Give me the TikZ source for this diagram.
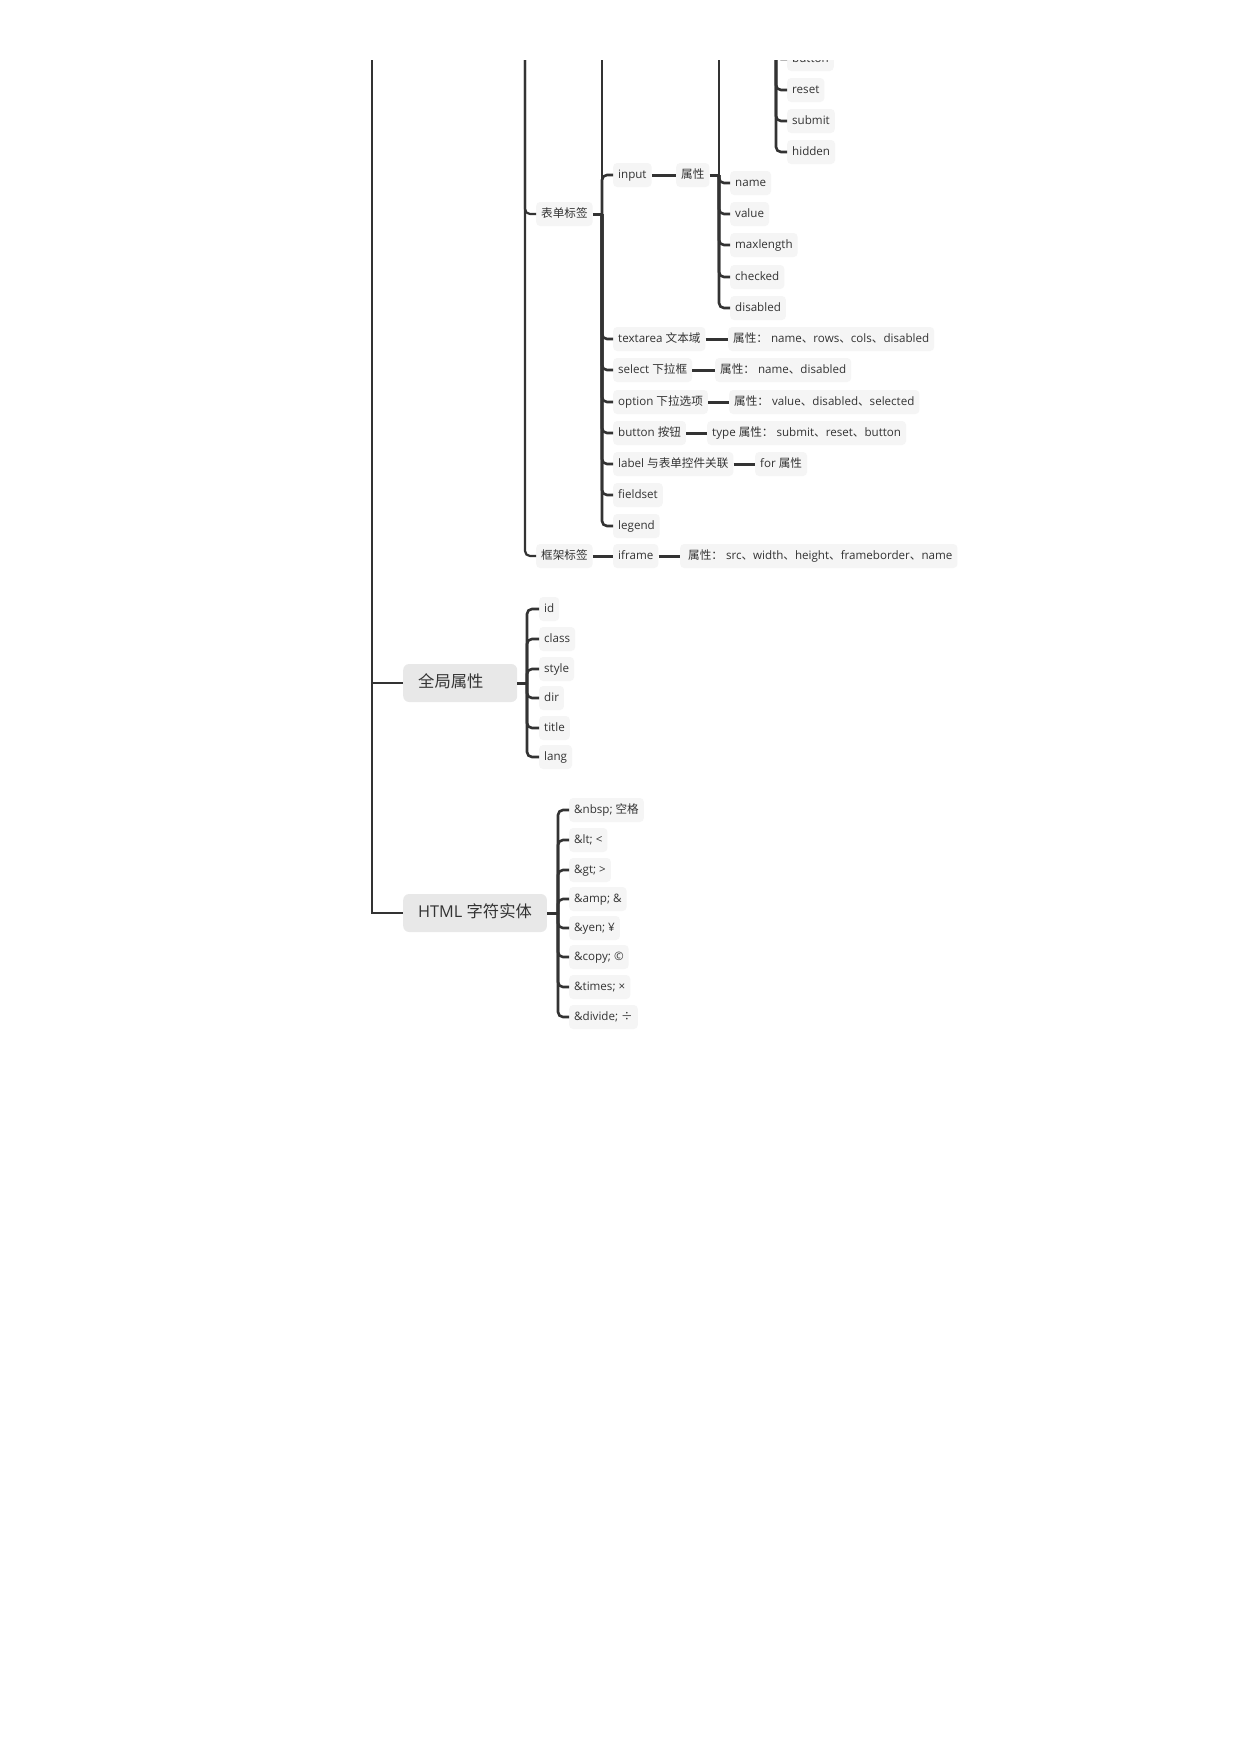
\documentclass[tikz,border=0pt]{standalone}
\usepackage{fontspec}
\setmainfont{Open Sans}
\newfontfamily\cjkfont{Noto Sans CJK SC}
\newcommand\zh[1]{{\cjkfont #1}}
\definecolor{ln}{HTML}{333333}
\definecolor{boxf}{HTML}{F5F5F5}
\definecolor{bigf}{HTML}{E8E8E8}
\definecolor{txt}{HTML}{333333}
\begin{document}
\begin{tikzpicture}[x=1pt,y=-1pt,
  leaf/.style={fill=boxf, rounded corners=4pt, inner xsep=5pt, inner ysep=0pt,
    minimum height=24pt, text height=8.5pt, text depth=2.5pt, anchor=west, text=txt,
    font=\fontsize{11.6}{13}\selectfont},
  big/.style={fill=bigf, rounded corners=6pt, inner xsep=15pt, inner ysep=0pt,
    minimum height=38pt, text height=12pt, text depth=3pt, anchor=west, text=txt,
    font=\fontsize{16.3}{19}\selectfont},
  mainline/.style={draw=ln, line width=1.3pt},
  trunkA/.style={draw=ln, line width=2.2pt, rounded corners=5pt},
  trunk/.style={draw=ln, line width=2.6pt, rounded corners=5pt},
  stub/.style={draw=ln, line width=3pt},
]
\useasboundingbox (0,0) rectangle (1240,1754);
\fill[white] (0,0) rectangle (1240,1754);
\begin{scope}
\clip (0,60) rectangle (1240,1754);

% free ends of branches running off the top
\coordinate (top0) at (372,30);
\coordinate (top1) at (525,30);
\coordinate (top2) at (602,30);
\coordinate (top3) at (719,30);
\coordinate (top4) at (776,30);

% type values
\node[leaf] (tbutton) at (787,59) {button};
\node[leaf] (treset) at (787,90) {reset};
\node[leaf] (tsubmit) at (787,121) {submit};
\node[leaf] (thidden) at (787,152) {hidden};

% input and its attributes
\node[leaf] (input) at (613,175) {input};
\node[leaf] (iattr) at (676,175) {\zh{属性}};
\node[leaf] (aname) at (730,183) {name};
\node[leaf] (avalue) at (730,214) {value};
\node[leaf] (amax) at (730,245) {maxlength};
\node[leaf] (achecked) at (730,277) {checked};
\node[leaf] (adisabled) at (730,308) {disabled};

% form tags
\node[leaf] (form) at (536,214) {\zh{表单标签}};
\node[leaf] (textarea) at (613,339) {textarea \zh{文本域}};
\node[leaf] (textareaA) at (728,339) {\zh{属性：} name\zh{、}rows\zh{、}cols\zh{、}disabled};
\node[leaf] (select) at (613,370) {select \zh{下拉框}};
\node[leaf] (selectA) at (715,370) {\zh{属性：} name\zh{、}disabled};
\node[leaf] (option) at (613,402) {option \zh{下拉选项}};
\node[leaf] (optionA) at (729,402) {\zh{属性：} value\zh{、}disabled\zh{、}selected};
\node[leaf] (button) at (613,433) {button \zh{按钮}};
\node[leaf] (buttonA) at (707,433) {type \zh{属性：} submit\zh{、}reset\zh{、}button};
\node[leaf] (label) at (613,464) {label \zh{与表单控件关联}};
\node[leaf] (labelA) at (755,464) {for \zh{属性}};
\node[leaf] (fieldset) at (613,495) {fieldset};
\node[leaf] (legend) at (613,526) {legend};

% frame tags
\node[leaf] (frame) at (536,556) {\zh{框架标签}};
\node[leaf] (iframe) at (613,556) {iframe};
\node[leaf] (iframeA) at (680,556) {\hspace{3pt}\zh{属性：} src\zh{、}width\zh{、}height\zh{、}frameborder\zh{、}name};

% global attributes
\node[big] (global) at (403,683) {\makebox[84pt][l]{\zh{全局属性}}};
\node[leaf] (gid) at (539,609) {id};
\node[leaf] (gclass) at (539,639) {class};
\node[leaf] (gstyle) at (539,669) {style};
\node[leaf] (gdir) at (539,698) {dir};
\node[leaf] (gtitle) at (539,728) {title};
\node[leaf] (glang) at (539,757) {lang};

% character entities
\node[big] (html) at (403,913) {HTML \zh{字符实体}};
\node[leaf] (enbsp) at (569,810) {\&nbsp; \zh{空格}};
\node[leaf] (elt) at (569,840) {\&lt; <};
\node[leaf] (egt) at (569,870) {\&gt; >};
\node[leaf] (eamp) at (569,899) {\&amp; \&};
\node[leaf] (eyen) at (569,928) {\&yen; ¥};
\node[leaf] (ecopy) at (569,957) {\&copy; ©};
\node[leaf] (etimes) at (569,987) {\&times; ×};
\node[leaf] (edivide) at (569,1017) {\&divide; \zh{÷}};

% ---- connectors ----
% main line
\draw[mainline] (top0) |- (html.west);
\draw[mainline] (global.west -| top0) -- (global.west);

% level under the clipped parent (x=525)
\draw[trunkA] (top1) |- (form.west);
\draw[trunkA] (top1) |- (frame.west);

% form tag children (x=602)
\draw[stub] (form.east) -- (form.east -| top2);
\draw[trunk] (form.east -| top2) -- (top2);
\foreach \c in {input,textarea,select,option,button,label,fieldset,legend}
  \draw[trunk] (form.east -| top2) |- (\c.west);

% input attributes
\draw[stub] (input.east) -- (iattr.west);
\draw[stub] (iattr.east) -- (iattr.east -| top3);
\draw[trunk] (iattr.east -| top3) -- (top3);
\foreach \c in {aname,avalue,amax,achecked,adisabled}
  \draw[trunk] (iattr.east -| top3) |- (\c.west);

% type values (x=776)
\foreach \c in {tbutton,treset,tsubmit,thidden}
  \draw[trunk] (top4) |- (\c.west);

% attribute boxes
\draw[stub] (textarea.east) -- (textareaA.west);
\draw[stub] (select.east) -- (selectA.west);
\draw[stub] (option.east) -- (optionA.west);
\draw[stub] (button.east) -- (buttonA.west);
\draw[stub] (label.east) -- (labelA.west);
\draw[stub] (frame.east) -- (iframe.west);
\draw[stub] (iframe.east) -- (iframeA.west);

% global attributes
\coordinate (gt) at (527,683);
\draw[stub] (global.east) -- (gt);
\foreach \c in {gid,gclass,gstyle,gdir,gtitle,glang}
  \draw[trunk] (gt) |- (\c.west);

% entities
\coordinate (et) at (558,913);
\draw[stub] (html.east) -- (et);
\foreach \c in {enbsp,elt,egt,eamp,eyen,ecopy,etimes,edivide}
  \draw[trunk] (et) |- (\c.west);
\end{scope}
\end{tikzpicture}
\end{document}
